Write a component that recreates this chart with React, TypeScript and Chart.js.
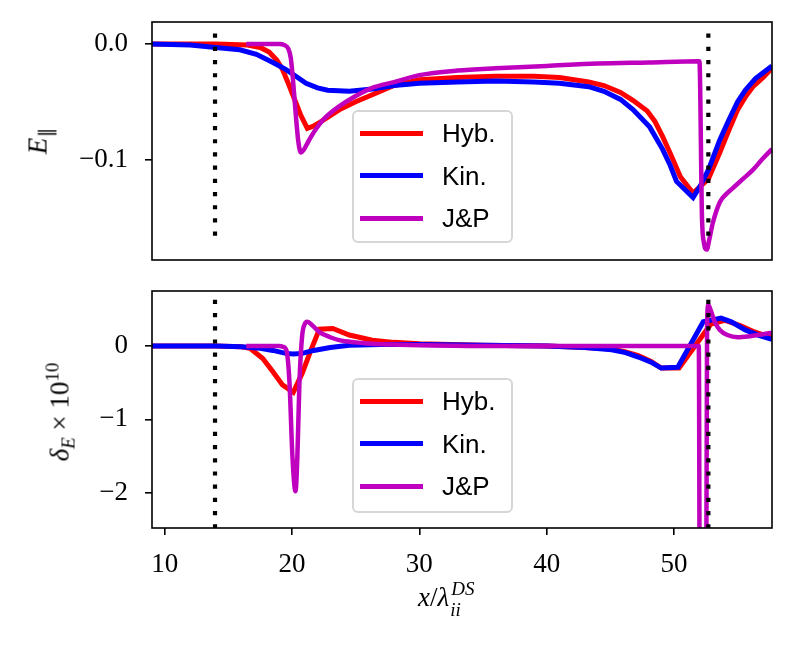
import { useEffect, useRef } from 'react';
import { Chart, registerables } from 'chart.js';

Chart.register(...registerables);

const X_MIN = 9;
const X_MAX = 57.7;
const xTicks = [10, 20, 30, 40, 50];
const xTickLabels = ['10', '20', '30', '40', '50'];
const eparTicks = [-0.1, 0.0];
const eparTickLabels = ['−0.1', '0.0'];
const deltaTicks = [-2, -1, 0];
const deltaTickLabels = ['−2', '−1', '0'];
const shockX = [13.95, 52.7];

// upper panel: E_par
const hybTopX = [9, 14, 16.5, 17.5, 18.2, 18.8, 19.25, 19.7, 20.2, 20.7, 21.2, 21.7, 22.15, 23.0, 23.7, 25.0, 26.3, 28, 30, 33, 36, 39, 41, 43.3, 44.5, 45.8, 46.8, 47.9, 48.5, 49.1, 49.8, 50.5, 51.5, 52.2, 52.7, 53.6, 54.3, 55.0, 55.6, 56.2, 57.0, 57.7];
const hybTopY = [0, 0, -0.001, -0.003, -0.007, -0.014, -0.022, -0.034, -0.048, -0.062, -0.073, -0.071, -0.068, -0.062, -0.057, -0.05, -0.044, -0.036, -0.031, -0.029, -0.028, -0.028, -0.029, -0.033, -0.036, -0.042, -0.049, -0.058, -0.067, -0.08, -0.097, -0.115, -0.129, -0.122, -0.117, -0.094, -0.075, -0.057, -0.046, -0.037, -0.029, -0.021];

const kinTopX = [9, 12, 14, 15.9, 17.2, 18.5, 19.5, 20.3, 21.1, 22.0, 22.8, 24.5, 26.3, 28, 30, 33, 36, 39, 41, 43.3, 44.5, 45.8, 46.8, 48.1, 49.1, 49.7, 50.2, 51.5, 52.06, 52.7, 53.6, 54.3, 55.0, 55.6, 56.4, 57.0, 57.7];
const kinTopY = [0, -0.001, -0.003, -0.005, -0.009, -0.016, -0.022, -0.028, -0.034, -0.038, -0.04, -0.041, -0.039, -0.036, -0.034, -0.033, -0.032, -0.033, -0.034, -0.037, -0.041, -0.048, -0.057, -0.072, -0.091, -0.105, -0.119, -0.133, -0.123, -0.109, -0.083, -0.066, -0.05, -0.04, -0.03, -0.025, -0.019];

const jpTopX = [16.4, 19.0, 19.4, 19.7, 19.9, 20.05, 20.3, 20.5, 20.7, 20.9, 21.3, 21.8, 22.5, 23.7, 25.0, 26.3, 28, 30, 33, 36, 40, 44, 48, 52.0, 52.2, 52.35, 52.57, 52.8, 53.05, 53.6, 54.1, 54.6, 55.4, 56.2, 57.0, 57.7];
const jpTopY = [0, 0, -0.001, -0.004, -0.012, -0.028, -0.062, -0.085, -0.094, -0.092, -0.084, -0.075, -0.065, -0.054, -0.045, -0.038, -0.033, -0.027, -0.023, -0.021, -0.019, -0.017, -0.016, -0.015, -0.15, -0.172, -0.178, -0.168, -0.155, -0.137, -0.13, -0.125, -0.117, -0.109, -0.099, -0.091];

// lower panel: delta_E x 1e10
const hybBotX = [9, 14, 16.0, 16.7, 17.7, 18.5, 19.25, 20.1, 20.8, 21.5, 22.15, 23.2, 24.5, 26.3, 28, 30, 35, 40, 43, 45.1, 46.2, 47.2, 48.2, 49.0, 50.4, 52.9, 54.0, 55.2, 56.2, 57.7];
const hybBotY = [0, 0, -0.01, -0.03, -0.17, -0.35, -0.53, -0.63, -0.37, -0.05, 0.23, 0.24, 0.15, 0.08, 0.05, 0.03, 0.01, 0, -0.02, -0.04, -0.08, -0.13, -0.21, -0.3, -0.3, 0.3, 0.35, 0.28, 0.2, 0.11];

const kinBotX = [9, 14, 16, 17.5, 18.5, 19.5, 20.1, 20.8, 21.7, 23.0, 24.5, 27, 30, 35, 40, 43, 45.1, 46.2, 47.2, 48.2, 49.0, 50.3, 52.3, 53.7, 54.5, 55.6, 56.6, 57.7];
const kinBotY = [0, 0, -0.01, -0.03, -0.06, -0.1, -0.11, -0.1, -0.06, -0.02, 0.01, 0.02, 0.02, 0.01, 0, -0.02, -0.05, -0.09, -0.15, -0.22, -0.3, -0.29, 0.33, 0.38, 0.33, 0.22, 0.15, 0.09];

const jpBotX = [16.4, 19.0, 19.3, 19.56, 19.8, 20.03, 20.27, 20.42, 20.58, 20.8, 21.0, 21.2, 21.6, 22.15, 23.0, 23.7, 25.0, 26.3, 28, 30, 35, 51.95, 52.05, 52.5, 52.6, 52.7, 52.9, 53.2, 53.6, 54.2, 55.0, 55.8, 57.0, 57.7];
const jpBotY = [0, 0, -0.01, -0.06, -0.5, -1.5, -1.98, -1.5, -0.5, 0.15, 0.3, 0.33, 0.28, 0.19, 0.12, 0.08, 0.05, 0.03, 0.02, 0.01, 0, 0, -5, -5, 0.3, 0.56, 0.48, 0.33, 0.22, 0.15, 0.12, 0.13, 0.16, 0.18];

const RED = '#ff0000';
const BLUE = '#0000ff';
const MAGENTA = '#bf00bf';
const TICK_FONT = { family: 'Liberation Serif', size: 27 };

const legendItems = [
  { label: 'Hyb.', color: RED, width: 5 },
  { label: 'Kin.', color: BLUE, width: 5 },
  { label: 'J&P', color: MAGENTA, width: 4.5 },
];

interface Series {
  xs: number[];
  ys: number[];
  color: string;
  width: number;
  smooth: boolean;
  order: number;
}

interface PanelProps {
  top: number;
  height: number;
  padTop: number;
  padBottom: number;
  yMin: number;
  yMax: number;
  yTicks: number[];
  yTickLabels: string[];
  showX: boolean;
  xAxisHeight: number;
  series: Series[];
  markY: [number, number];
}

const toPoints = (xs: number[], ys: number[]) => xs.map((x, i) => ({ x, y: ys[i] }));

const framePlugin = {
  id: 'frame',
  afterDatasetsDraw(chart: any) {
    const { ctx, chartArea: a } = chart;
    ctx.save();
    ctx.strokeStyle = '#000';
    ctx.lineWidth = 1.6;
    ctx.strokeRect(a.left, a.top, a.right - a.left, a.bottom - a.top);
    ctx.restore();
  },
};

function Panel(p: PanelProps) {
  const canvasRef = useRef<HTMLCanvasElement>(null);

  useEffect(() => {
    if (!canvasRef.current) return;

    const datasets: any[] = p.series.map((s) => ({
      data: toPoints(s.xs, s.ys),
      borderColor: s.color,
      borderWidth: s.width,
      pointRadius: 0,
      fill: false,
      tension: 0,
      cubicInterpolationMode: s.smooth ? 'monotone' : 'default',
      order: s.order,
    }));
    shockX.forEach((x) => {
      datasets.push({
        data: [
          { x, y: p.markY[0] },
          { x, y: p.markY[1] },
        ],
        borderColor: '#000',
        borderWidth: 4.2,
        borderDash: [4.2, 9],
        pointRadius: 0,
        fill: false,
        order: 0,
      });
    });

    const chart = new Chart(canvasRef.current, {
      type: 'line',
      data: { datasets },
      options: {
        responsive: false,
        animation: false,
        events: [],
        layout: { padding: { left: 0, right: 23, top: p.padTop, bottom: p.padBottom } },
        plugins: { legend: { display: false }, tooltip: { enabled: false } },
        scales: {
          x: {
            type: 'linear',
            display: p.showX,
            min: X_MIN,
            max: X_MAX,
            afterBuildTicks: (s: any) => {
              s.ticks = xTicks.map((v) => ({ value: v }));
            },
            afterFit: (s: any) => {
              s.height = p.xAxisHeight;
              s.paddingLeft = 0;
              s.paddingRight = 0;
            },
            grid: { drawOnChartArea: false, drawTicks: true, tickLength: 7, color: '#000', lineWidth: 1.6 },
            border: { display: false },
            ticks: {
              color: '#000',
              font: TICK_FONT,
              padding: 14,
              autoSkip: false,
              maxRotation: 0,
              callback: (_v: any, i: number) => xTickLabels[i],
            },
          },
          y: {
            type: 'linear',
            min: p.yMin,
            max: p.yMax,
            afterBuildTicks: (s: any) => {
              s.ticks = p.yTicks.map((v) => ({ value: v }));
            },
            afterFit: (s: any) => {
              s.width = 152;
              s.paddingTop = 0;
              s.paddingBottom = 0;
            },
            grid: { drawOnChartArea: false, drawTicks: true, tickLength: 7, color: '#000', lineWidth: 1.6 },
            border: { display: false },
            ticks: {
              color: '#000',
              font: TICK_FONT,
              padding: 17,
              autoSkip: false,
              callback: (_v: any, i: number) => p.yTickLabels[i],
            },
          },
        },
      },
      plugins: [framePlugin],
    });

    return () => {
      chart.destroy();
    };
  }, []);

  return (
    <canvas
      ref={canvasRef}
      width={795}
      height={p.height}
      style={{ position: 'absolute', left: 0, top: p.top, display: 'block' }}
    />
  );
}

function Legend({ top, height }: { top: number; height: number }) {
  return (
    <div
      style={{
        position: 'absolute',
        left: 352,
        top,
        width: 161,
        height,
        boxSizing: 'border-box',
        border: '2px solid #d6d6d6',
        borderRadius: 6,
        background: 'rgba(255,255,255,0.8)',
      }}
    >
      {legendItems.map((item, i) => (
        <div key={item.label} style={{ position: 'absolute', left: 6, top: 21 + i * 42.7 }}>
          <div
            style={{
              position: 'absolute',
              left: 0,
              top: -item.width / 2,
              width: 63,
              height: item.width,
              background: item.color,
            }}
          />
          <span
            style={{
              position: 'absolute',
              left: 82,
              top: 0,
              transform: 'translateY(-50%)',
              fontFamily: 'Liberation Sans',
              fontSize: 26,
              lineHeight: 1,
              whiteSpace: 'nowrap',
            }}
          >
            {item.label}
          </span>
        </div>
      ))}
    </div>
  );
}

const rotated = (cx: number, cy: number): React.CSSProperties => ({
  position: 'absolute',
  left: cx,
  top: cy,
  transform: 'translate(-50%, -50%) rotate(-90deg)',
  whiteSpace: 'nowrap',
  fontFamily: 'Liberation Serif',
  fontSize: 27,
  lineHeight: 1,
});

const subStyle: React.CSSProperties = { fontSize: '0.7em', verticalAlign: '-0.3em', lineHeight: 0 };
const supStyle: React.CSSProperties = { fontSize: '0.7em', verticalAlign: '0.55em', lineHeight: 0 };

export default function App() {
  const topSeries: Series[] = [
    { xs: hybTopX, ys: hybTopY, color: RED, width: 5, smooth: false, order: 3 },
    { xs: kinTopX, ys: kinTopY, color: BLUE, width: 5, smooth: false, order: 2 },
    { xs: jpTopX, ys: jpTopY, color: MAGENTA, width: 4.5, smooth: true, order: 1 },
  ];
  const botSeries: Series[] = [
    { xs: hybBotX, ys: hybBotY, color: RED, width: 5, smooth: false, order: 3 },
    { xs: kinBotX, ys: kinBotY, color: BLUE, width: 5, smooth: false, order: 2 },
    { xs: jpBotX, ys: jpBotY, color: MAGENTA, width: 4.5, smooth: true, order: 1 },
  ];

  return (
    <div style={{ position: 'absolute', left: 0, top: 0, width: 795, height: 646, background: '#fff', overflow: 'hidden' }}>
      <Panel
        top={0}
        height={275}
        padTop={22}
        padBottom={15}
        yMin={-0.187}
        yMax={0.019}
        yTicks={eparTicks}
        yTickLabels={eparTickLabels}
        showX={false}
        xAxisHeight={0}
        series={topSeries}
        markY={[0.009, -0.17]}
      />
      <Panel
        top={275}
        height={371}
        padTop={16}
        padBottom={0}
        yMin={-2.48}
        yMax={0.75}
        yTicks={deltaTicks}
        yTickLabels={deltaTickLabels}
        showX={true}
        xAxisHeight={118}
        series={botSeries}
        markY={[0.63, -2.48]}
      />
      <Legend top={110} height={133} />
      <Legend top={378} height={135} />

      <div style={rotated(38, 141)}>
        <i>E</i>
        <span style={subStyle}>∥</span>
      </div>
      <div style={rotated(60, 412)}>
        <i>δ</i>
        <span style={subStyle}>
          <i>E</i>
        </span>
        {' × 10'}
        <span style={supStyle}>10</span>
      </div>
      <div
        style={{
          position: 'absolute',
          left: 418,
          top: 584,
          whiteSpace: 'nowrap',
          fontFamily: 'Liberation Serif',
          fontSize: 27,
          lineHeight: 1,
        }}
      >
        <i>x</i>/<i>λ</i>
        <span style={{ position: 'relative', display: 'inline-block', width: 34, height: 27, verticalAlign: 'top' }}>
          <i style={{ position: 'absolute', left: 2, top: -5, fontSize: 19, lineHeight: 1 }}>DS</i>
          <i style={{ position: 'absolute', left: 1, top: 16, fontSize: 19, lineHeight: 1 }}>ii</i>
        </span>
      </div>
    </div>
  );
}
